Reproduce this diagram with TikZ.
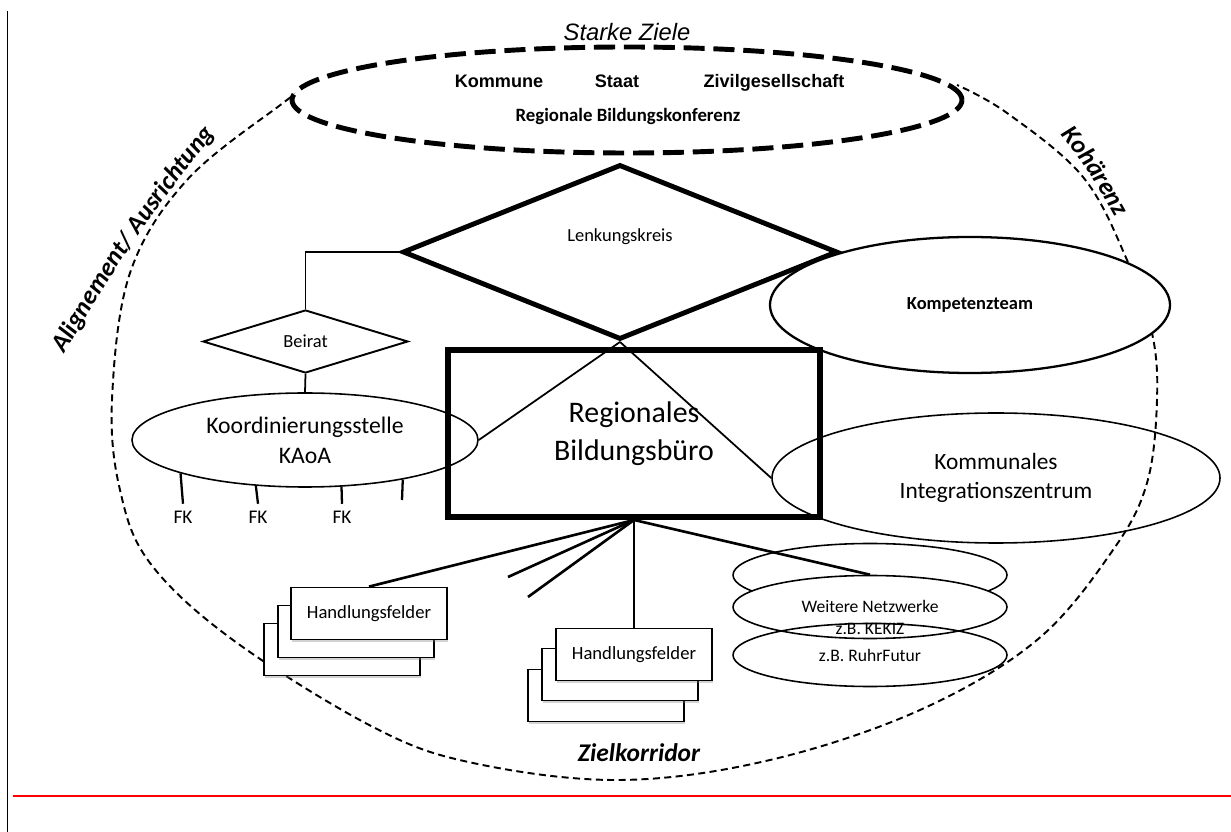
\documentclass[tikz,border=0pt]{standalone}
\usepackage{fontspec}
\setmainfont{Carlito}
\newfontfamily\arialfont{Liberation Sans}
\usetikzlibrary{shapes.geometric,decorations.text,shadows}

\begin{document}
\begin{tikzpicture}
\tikzstyle{every node}=[inner sep=1pt]
\tikzstyle{conn}=[line width=1pt]
\tikzstyle{spoke}=[line width=1.5pt]
\tikzstyle{bigdiamond}=[diamond,draw,fill=white,line width=2.8pt,inner sep=0pt,minimum width=8.7cm,minimum height=3.5cm]
\tikzstyle{smalldiamond}=[diamond,draw,fill=white,line width=1.1pt,inner sep=0pt,minimum width=4.1cm,minimum height=1.26cm,font=\fontsize{10.5}{12}\selectfont]
\tikzstyle{thickoval}=[ellipse,draw,fill=white,line width=2.8pt,dash pattern=on 12pt off 5pt,inner sep=0pt,minimum width=13.4cm,minimum height=2.12cm]
\tikzstyle{oval}=[ellipse,draw,line width=0.9pt,inner sep=0pt,align=center]
\tikzstyle{netzoval}=[ellipse,draw,line width=0.9pt,inner sep=0pt,minimum width=5.48cm,minimum height=1.26cm,font=\fontsize{10}{12}\selectfont]
\tikzstyle{hfbox}=[rectangle,draw,fill=white,line width=1pt,minimum width=3.12cm,minimum height=1.04cm,font=\fontsize{10.6}{12}\selectfont,drop shadow={shadow xshift=0.6pt,shadow yshift=-1.2pt,opacity=0.35}]
\tikzstyle{rbkword}=[font=\arialfont\bfseries\fontsize{10.3}{12}\selectfont,text height=7.6pt,text depth=2.2pt]
\tikzstyle{fklabel}=[font=\fontsize{11}{13}\selectfont,outer sep=3pt]
\tikzstyle{sidetext}=[font=\bfseries\itshape\fontsize{14.5}{17}\selectfont]
\useasboundingbox (0,0) rectangle (24.62,-16.64);

% frame lines
\draw[line width=1.1pt] (0.15,-0.22) -- (0.15,-16.64);
\draw[red,line width=1.7pt] (0.26,-15.92) -- (24.62,-15.92);

% outer corridor
\draw[line width=1.1pt,dash pattern=on 4pt off 2.5pt] plot[smooth,tension=0.6] coordinates {(6.00,-1.84) (5.66,-2.06) (3.74,-3.60) (2.60,-5.46) (2.24,-8.00) (2.40,-9.80) (3.00,-11.26) (4.66,-12.80) (7.46,-14.54) (9.46,-15.26) (12.40,-15.60) (15.40,-15.20) (18.40,-14.20) (20.74,-12.80) (22.26,-11.00) (22.94,-9.66) (23.14,-8.00) (23.04,-6.66) (22.54,-5.20) (21.66,-3.54) (20.14,-2.26) (19.14,-1.70)};

\draw (12.54,-2.0) node (rbk) [thickoval] {};
\node (kommune) at (9.98,-1.66) [rbkword] {Kommune};
\node (staat) at (12.34,-1.66) [rbkword] {Staat};
\node (zivil) at (15.48,-1.66) [rbkword] {Zivilgesellschaft};
\node (rbktext) at (12.56,-2.34) [font=\bfseries\fontsize{10.7}{13}\selectfont] {Regionale Bildungskonferenz};
\node (ziele) at (12.54,-0.64) [font=\arialfont\itshape\fontsize{13.5}{16}\selectfont] {Starke Ziele};
\node (korridor) at (12.78,-15.06) [sidetext] {Zielkorridor};

\path[decorate,decoration={text along path,text align=center,text={|\bfseries\itshape\fontsize{14.5}{17}\selectfont|Alignement/ Ausrichtung}}] (1.08,-7.45) to[out=60,in=230] (4.58,-2.35);
\path[decorate,decoration={text along path,text align=center,text={|\bfseries\itshape\fontsize{14.5}{17}\selectfont|Kohärenz}}] (21.06,-2.52) to[out=-50,in=118] (22.42,-4.55);

% steering
\draw (12.40,-5.04) node (lk) [bigdiamond,label={[yshift=0.3cm,font=\fontsize{10.5}{12}\selectfont]center:Lenkungskreis}] {};
\draw (19.40,-6.10) node (kt) [oval,fill=white,line width=1.3pt,minimum width=8cm,minimum height=2.72cm,font=\bfseries\fontsize{10.5}{12}\selectfont] {Kompetenzteam};
\draw (6.11,-6.83) node (beirat) [smalldiamond] {Beirat};

% office
\draw (12.68,-8.67) node (rbb) [rectangle,draw,fill=white,line width=3.4pt,minimum width=7.44cm,minimum height=3.34cm,align=center,font=\fontsize{17}{21.5}\selectfont] {Regionales\\Bildungsbüro};
\draw (6.10,-8.80) node (kaoa) [oval,minimum width=6.92cm,minimum height=1.88cm,font=\fontsize{13.5}{17}\selectfont] {Koordinierungsstelle\\KAoA};
\draw (19.92,-9.56) node (kiz) [oval,minimum width=8.96cm,minimum height=2.6cm,font=\fontsize{13.3}{16.4}\selectfont] {Kommunales\\Integrationszentrum};

\node (fk1) at (3.66,-10.34) [fklabel] {FK};
\node (fk2) at (5.16,-10.34) [fklabel] {FK};
\node (fk3) at (6.84,-10.34) [fklabel] {FK};
\coordinate (fk4) at (8.04,-10.0);

% networks
\draw (17.40,-11.50) node (netz1) [netzoval] {};
\draw (17.40,-12.14) node (netz2) [netzoval,fill=white,label={[yshift=-0.21cm,align=center,font=\fontsize{10}{12}\selectfont]center:Weitere Netzwerke\\z.B. KEKIZ}] {};
\draw (17.40,-13.10) node (netz3) [netzoval] {z.B. RuhrFutur};

% fields of action
\draw (6.84,-12.99) node (hf1c) [hfbox] {};
\draw (7.12,-12.63) node (hf1b) [hfbox] {};
\draw (7.38,-12.27) node (hf1) [hfbox] {Handlungsfelder};
\draw (12.12,-13.91) node (hf2c) [hfbox] {};
\draw (12.40,-13.49) node (hf2b) [hfbox] {};
\draw (12.68,-13.09) node (hf2) [hfbox] {Handlungsfelder};
\coordinate (hfa) at (10.16,-11.54);
\coordinate (hfb) at (10.56,-11.94);

\draw[conn] (lk.west) -| (beirat.north);
\draw[conn] (beirat.south) -- (kaoa.north);
\draw[conn] (lk.south) -- (kaoa.east);
\draw[conn] (lk.south) -- (kiz.west);
\draw[line width=1.3pt] (kaoa.195.3) -- (fk1.north);
\draw[line width=1.3pt] (kaoa.223.9) -- (fk2.north);
\draw[line width=1.3pt] (kaoa.308.8) -- (fk3.north);
\draw[line width=1.3pt] (kaoa.338.1) -- (fk4);
\draw[spoke] (rbb.south) -- (hf1.north);
\draw[spoke] (rbb.south) -- (hfa);
\draw[spoke] (rbb.south) -- (hfb);
\draw[spoke] (rbb.south) -- (hf2.north);
\draw[spoke] (rbb.south) -- (netz2.north);
\end{tikzpicture}
\end{document}
